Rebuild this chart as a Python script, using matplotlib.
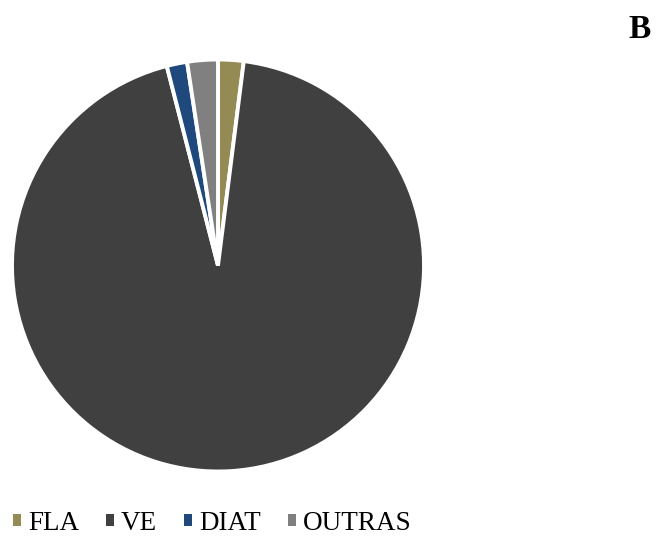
import matplotlib
matplotlib.use("Agg")
import matplotlib.pyplot as plt
from matplotlib.patches import Patch

# data
labels = ['FLA', 'VE', 'DIAT', 'OUTRAS']
values = [2.0, 94.0, 1.6, 2.4]
colors = ['#948A54', '#404040', '#1F497D', '#808080']

plt.rcParams['font.family'] = ['Liberation Serif', 'DejaVu Serif']

W, H = 656, 540
fig = plt.figure(figsize=(W / 100, H / 100), dpi=100)
cx, cy, r = 218, 265.5, 206
ax = fig.add_axes([(cx - r) / W, (H - cy - r) / H, 2 * r / W, 2 * r / H])
ax.pie(values, colors=colors, startangle=90, counterclock=False,
       wedgeprops=dict(edgecolor='white', linewidth=2.8), radius=1)
ax.set_xlim(-1, 1)
ax.set_ylim(-1, 1)
ax.set_aspect('equal')

handles = [Patch(facecolor=c, edgecolor='none') for c in colors]
fig.legend(handles, labels, loc='center left', bbox_to_anchor=(5 / W, 1 - 523 / H),
           ncol=4, frameon=False, fontsize=19.5, handlelength=0.3, handleheight=0.3,
           handletextpad=0.25, columnspacing=1.0, borderaxespad=0, borderpad=0.3)

fig.text(628 / W, 1 - 29 / H, 'B', fontsize=24, fontweight='bold', va='center', ha='left')

fig.savefig('out.png', dpi=100)
